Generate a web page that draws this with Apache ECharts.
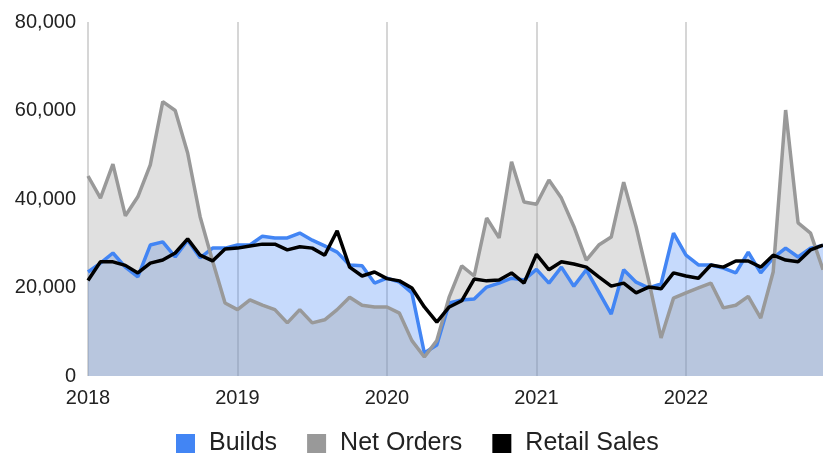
<!DOCTYPE html>
<html>
<head>
<meta charset="utf-8">
<title>Builds / Net Orders / Retail Sales</title>
<script src="https://cdn.jsdelivr.net/npm/echarts@6/dist/echarts.min.js"></script>
<style>
  html, body { margin: 0; padding: 0; background: #fff; }
  #chart { width: 823px; height: 453px; }
</style>
</head>
<body>
<div id="chart"></div>
<script>
// monthly, Jan 2018 - Dec 2022
const months = [
  "2018-01", "2018-02", "2018-03", "2018-04", "2018-05", "2018-06", "2018-07", "2018-08", "2018-09", "2018-10", "2018-11", "2018-12",
  "2019-01", "2019-02", "2019-03", "2019-04", "2019-05", "2019-06", "2019-07", "2019-08", "2019-09", "2019-10", "2019-11", "2019-12",
  "2020-01", "2020-02", "2020-03", "2020-04", "2020-05", "2020-06", "2020-07", "2020-08", "2020-09", "2020-10", "2020-11", "2020-12",
  "2021-01", "2021-02", "2021-03", "2021-04", "2021-05", "2021-06", "2021-07", "2021-08", "2021-09", "2021-10", "2021-11", "2021-12",
  "2022-01", "2022-02", "2022-03", "2022-04", "2022-05", "2022-06", "2022-07", "2022-08", "2022-09", "2022-10", "2022-11", "2022-12",
];

const builds = [
  23500, 25500, 27800, 24600, 22400, 29600, 30300, 26900, 30700, 26700, 28900, 28900,
  29600, 29600, 31600, 31200, 31200, 32300, 30700, 29400, 28000, 25100, 24900, 21000,
  22100, 21200, 18800, 5200, 7000, 16500, 17200, 17400, 20100, 21000, 22100, 21700,
  24100, 21000, 24600, 20300, 24000, 19000, 14000, 24000, 21200, 19900, 20800, 32300,
  27300, 25100, 25100, 24400, 23300, 28000, 23300, 26700, 28900, 26900, 28900, 29500,
];

const netOrders = [
  45200, 40200, 47900, 36200, 40500, 47700, 62000, 60000, 50400, 36000, 26000, 16500,
  15000, 17200, 16000, 15000, 12000, 15000, 12000, 12700, 15000, 17800, 16000, 15600,
  15600, 14200, 8000, 4300, 8000, 17900, 24900, 22600, 35700, 31200, 48400, 39300,
  38800, 44300, 40200, 33800, 26200, 29600, 31400, 43800, 33700, 21700, 8600, 17600,
  18800, 19900, 21000, 15400, 16000, 18000, 13100, 23500, 60100, 34600, 32300, 24000,
];

const retailSales = [
  21600, 25800, 25800, 25000, 23300, 25500, 26200, 27800, 31000, 27300, 26000, 28700,
  28900, 29400, 29800, 29800, 28500, 29200, 28900, 27300, 32800, 24600, 22600, 23500,
  22000, 21500, 19900, 15600, 12200, 15600, 17000, 21900, 21500, 21700, 23300, 21000,
  27500, 24000, 25800, 25300, 24600, 22400, 20300, 21000, 18800, 20100, 19700, 23300,
  22600, 22100, 25100, 24600, 26000, 26000, 24600, 27300, 26200, 25800, 28500, 29600,
];

const yTicks = [0, 20000, 40000, 60000, 80000];

const fontFamily = 'Arial, "Liberation Sans", sans-serif';
const isJanuary = (index) => index % 12 === 0;

const myChart = echarts.init(document.getElementById("chart"));

const option = {
  animation: false,
  textStyle: { fontFamily: fontFamily },
  grid: {
    left: 88,
    top: 22,
    bottom: 77,
    width: 739,
    containLabel: false,
  },
  legend: {
    top: 426,
    left: 171,
    icon: "rect",
    itemWidth: 19,
    itemHeight: 19,
    itemGap: 30,
    textStyle: {
      fontSize: 25,
      color: "#222",
      fontFamily: fontFamily,
      padding: [0, 0, 0, 9],
    },
    data: [
      { name: "Builds", itemStyle: { color: "#4285f4" } },
      { name: "Net Orders", itemStyle: { color: "#999999" } },
      { name: "Retail Sales", itemStyle: { color: "#000000" } },
    ],
  },
  xAxis: {
    type: "category",
    boundaryGap: false,
    data: months,
    axisLine: { show: false },
    axisTick: { show: false },
    axisLabel: {
      interval: isJanuary,
      color: "#222",
      fontSize: 20,
      margin: 12,
      formatter: (value) => value.slice(0, 4),
    },
    splitLine: {
      show: true,
      interval: isJanuary,
      lineStyle: { color: "#c8c8c8", width: 1.5 },
    },
  },
  yAxis: {
    type: "value",
    min: yTicks[0],
    max: yTicks[yTicks.length - 1],
    interval: 20000,
    axisLine: { show: false },
    axisTick: { show: false },
    splitLine: { show: false },
    axisLabel: {
      color: "#222",
      fontSize: 20,
      margin: 12,
      formatter: (v) => v.toLocaleString("en-US"),
    },
  },
  series: [
    {
      name: "Builds",
      type: "line",
      data: builds,
      symbol: "none",
      color: "#4285f4",
      lineStyle: { width: 3.5, color: "#4285f4" },
      areaStyle: { color: "#4285f4", opacity: 0.3 },
    },
    {
      name: "Net Orders",
      type: "line",
      data: netOrders,
      symbol: "none",
      color: "#999999",
      lineStyle: { width: 3.5, color: "#999999" },
      areaStyle: { color: "#999999", opacity: 0.3 },
    },
    {
      name: "Retail Sales",
      type: "line",
      data: retailSales,
      symbol: "none",
      color: "#000000",
      lineStyle: { width: 3.5, color: "#000000" },
    },
  ],
};

option && myChart.setOption(option);
</script>
</body>
</html>
